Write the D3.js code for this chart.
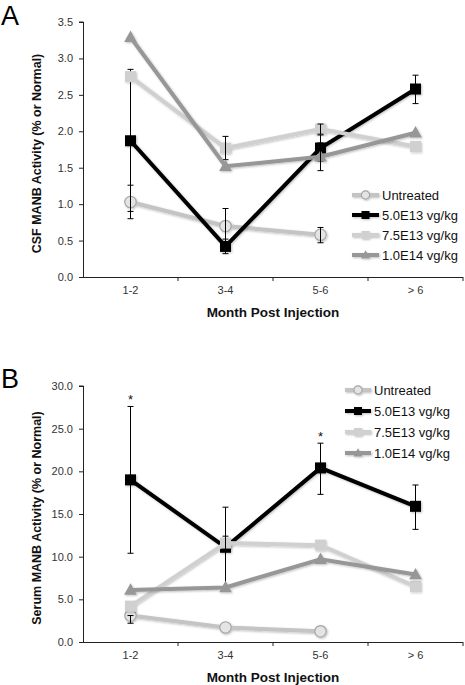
<!DOCTYPE html>
<html>
<head>
<meta charset="utf-8">
<script src="https://cdn.jsdelivr.net/npm/d3@7"></script>
<style>
  body { margin: 0; background: #fff; }
  svg { display: block; font-family: "Liberation Sans", Arial, sans-serif; }
  .axis path, .axis line { stroke: #222; }
  .axis text { fill: #333; font-size: 11px; }
</style>
</head>
<body>
<div id="chart"></div>
<script>
// categories and series
var months = ["1-2", "3-4", "5-6", "> 6"];
var seriesNames = ["Untreated", "5.0E13 vg/kg", "7.5E13 vg/kg", "1.0E14 vg/kg"];

// panel A: CSF
var csfUntreated = [1.03, 0.70, 0.58, null];
var csf50E13 = [1.87, 0.42, 1.77, 2.58];
var csf75E13 = [2.75, 1.77, 2.03, 1.79];
var csf10E14 = [3.29, 1.52, 1.65, 1.98];
// error bars [low, high]
var csfUntreatedErr = [[0.80, 1.26], [0.46, 0.94], [0.47, 0.68], null];
var csf50E13Err = [[0.90, 2.85], [0.32, 0.52], [1.59, 1.95], [2.38, 2.77]];
var csf75E13Err = [null, [1.61, 1.93], [1.96, 2.10], null];
var csf10E14Err = [null, null, [1.46, 1.84], null];
var csfTicks = [0, 0.5, 1.0, 1.5, 2.0, 2.5, 3.0, 3.5];

// panel B: Serum
var serUntreated = [3.1, 1.7, 1.25, null];
var ser50E13 = [19.0, 11.1, 20.4, 15.9];
var ser75E13 = [4.2, 11.6, 11.35, 6.5];
var ser10E14 = [6.1, 6.4, 9.7, 7.9];
var serUntreatedErr = [[2.2, 3.1], null, null, null];
var ser50E13Err = [[10.4, 27.6], [6.3, 15.8], [17.3, 23.3], [13.2, 18.4]];
var ser75E13Err = [null, [10.8, 12.4], null, null];
var ser10E14Err = [null, null, null, null];
var serStars = ["*", null, "*", null];
var serTicks = [0, 5, 10, 15, 20, 25, 30];

var styles = [
    {line: "#c4c4c4", fill: "#e4e4e4", stroke: "#a6a6a6", marker: "circle"},
    {line: "#000000", fill: "#000000", stroke: "#000000", marker: "square"},
    {line: "#d0d0d0", fill: "#d0d0d0", stroke: "#d0d0d0", marker: "square"},
    {line: "#979797", fill: "#979797", stroke: "#979797", marker: "triangle"}
];

var W = 465, H = 685;
var svg = d3.select("#chart").append("svg")
    .attr("width", W)
    .attr("height", H);

var defs = svg.append("defs");
var shadow = defs.append("filter").attr("id", "shadow")
    .attr("x", "-30%").attr("y", "-30%").attr("width", "160%").attr("height", "160%");
shadow.append("feDropShadow")
    .attr("dx", 1).attr("dy", 1).attr("stdDeviation", 1)
    .attr("flood-color", "#000").attr("flood-opacity", 0.25);

function drawMarker(g, type, st, size) {
    if (type === "circle") {
        g.append("circle").attr("r", size * 0.52)
            .style("fill", st.fill).style("stroke", st.stroke).style("stroke-width", 1.2);
    } else if (type === "square") {
        g.append("rect").attr("x", -size / 2).attr("y", -size / 2)
            .attr("width", size).attr("height", size)
            .style("fill", st.fill);
    } else {
        var s = size * 0.58;
        g.append("path")
            .attr("d", "M0," + (-s * 1.05) + "L" + s + "," + (s * 0.75) + "L" + (-s) + "," + (s * 0.75) + "Z")
            .style("fill", st.fill);
    }
}

function drawPanel(opt) {
    var g = svg.append("g");

    var x = d3.scaleBand()
        .domain(months)
        .range([83, 463]);

    var y = d3.scaleLinear()
        .domain([opt.ticks[0], opt.ticks[opt.ticks.length - 1]])
        .range([opt.bottom, opt.top]);

    // panel letter
    g.append("text")
        .attr("x", 1)
        .attr("y", opt.letterY)
        .style("font-size", "27px")
        .style("fill", "#000")
        .text(opt.letter);

    // y axis
    g.append("g")
        .attr("class", "axis")
        .attr("transform", "translate(83,0)")
        .call(d3.axisLeft(y).tickValues(opt.ticks).tickSize(4).tickPadding(6)
            .tickFormat(d3.format(opt.fmt)))
        .call(function (a) { a.select(".domain").attr("d", "M-4," + y(opt.ticks[opt.ticks.length - 1]) + "H0.5V" + y(0)); });

    // x axis
    var xa = g.append("g")
        .attr("class", "axis")
        .attr("transform", "translate(0," + y(0) + ")")
        .call(d3.axisBottom(x).tickSize(0).tickPadding(9));
    xa.select(".domain").attr("d", "M83,0.5H463");
    xa.selectAll(".bound")
        .data(months)
        .enter().append("line")
        .attr("class", "bound")
        .attr("x1", function (d) { return x(d) + x.bandwidth(); })
        .attr("x2", function (d) { return x(d) + x.bandwidth(); })
        .attr("y1", 0)
        .attr("y2", 4);

    g.append("text")
        .attr("x", 273)
        .attr("y", y(0) + 40)
        .attr("text-anchor", "middle")
        .style("font-size", "13.5px")
        .style("font-weight", "bold")
        .style("fill", "#111")
        .text("Month Post Injection");

    g.append("text")
        .attr("transform", "translate(41," + ((opt.top + opt.bottom) / 2 + 4) + ") rotate(-90)")
        .attr("text-anchor", "middle")
        .style("font-size", "12.5px")
        .style("font-weight", "bold")
        .style("fill", "#111")
        .text(opt.yTitle);

    var cx = function (i) { return x(months[i]) + x.bandwidth() / 2; };

    if (opt.stars) {
        opt.stars.forEach(function (s, i) {
            if (!s) return;
            g.append("text")
                .attr("x", cx(i))
                .attr("y", y(opt.errs[1][i][1]) - 2)
                .attr("text-anchor", "middle")
                .style("font-size", "13px")
                .style("fill", "#111")
                .text(s);
        });
    }

    // series lines, markers, then that series' error bars
    var line = d3.line()
        .defined(function (d) { return d !== null; })
        .x(function (d, i) { return cx(i); })
        .y(function (d) { return y(d); });

    opt.series.forEach(function (vals, k) {
        var st = styles[k];
        var sg = g.append("g").attr("filter", "url(#shadow)");
        sg.append("path")
            .datum(vals)
            .attr("d", line)
            .style("fill", "none")
            .style("stroke", st.line)
            .style("stroke-width", 4)
            .style("stroke-linejoin", "miter");
        vals.forEach(function (v, i) {
            if (v === null) return;
            var mg = sg.append("g").attr("transform", "translate(" + cx(i) + "," + y(v) + ")");
            drawMarker(mg, st.marker, st, 11);
        });

        opt.errs[k].forEach(function (e, i) {
            if (!e) return;
            var eg = g.append("g").style("stroke", "#000").style("stroke-width", 1);
            eg.append("line").attr("x1", cx(i)).attr("x2", cx(i)).attr("y1", y(e[0])).attr("y2", y(e[1]));
            eg.append("line").attr("x1", cx(i) - 3).attr("x2", cx(i) + 3).attr("y1", y(e[0])).attr("y2", y(e[0]));
            eg.append("line").attr("x1", cx(i) - 3).attr("x2", cx(i) + 3).attr("y1", y(e[1])).attr("y2", y(e[1]));
        });
    });

    // legend
    var lg = g.append("g");
    seriesNames.forEach(function (name, k) {
        var st = styles[k];
        var ly = opt.legendY + k * opt.legendStep;
        var row = lg.append("g").attr("filter", "url(#shadow)");
        row.append("line")
            .attr("x1", opt.legendX).attr("x2", opt.legendX + opt.legendLen)
            .attr("y1", ly).attr("y2", ly)
            .style("stroke", st.line).style("stroke-width", 4);
        var mg = row.append("g").attr("transform", "translate(" + (opt.legendX + opt.legendLen / 2) + "," + ly + ")");
        drawMarker(mg, st.marker, st, 8);
        lg.append("text")
            .attr("x", opt.legendX + opt.legendLen + 3)
            .attr("y", ly + 4.5)
            .style("font-size", "13px")
            .style("fill", "#111")
            .text(name);
    });
}

drawPanel({
    letter: "A", letterY: 25,
    top: 22, bottom: 277,
    ticks: csfTicks, fmt: ".1f",
    yTitle: "CSF MANB Activity (% or Normal)",
    series: [csfUntreated, csf50E13, csf75E13, csf10E14],
    errs: [csfUntreatedErr, csf50E13Err, csf75E13Err, csf10E14Err],
    legendX: 352, legendLen: 27, legendY: 195, legendStep: 20
});

drawPanel({
    letter: "B", letterY: 388,
    top: 386, bottom: 642,
    ticks: serTicks, fmt: ".1f",
    yTitle: "Serum MANB Activity (% or Normal)",
    series: [serUntreated, ser50E13, ser75E13, ser10E14],
    errs: [serUntreatedErr, ser50E13Err, ser75E13Err, ser10E14Err],
    stars: serStars,
    legendX: 345, legendLen: 26, legendY: 390, legendStep: 21
});
</script>
</body>
</html>
